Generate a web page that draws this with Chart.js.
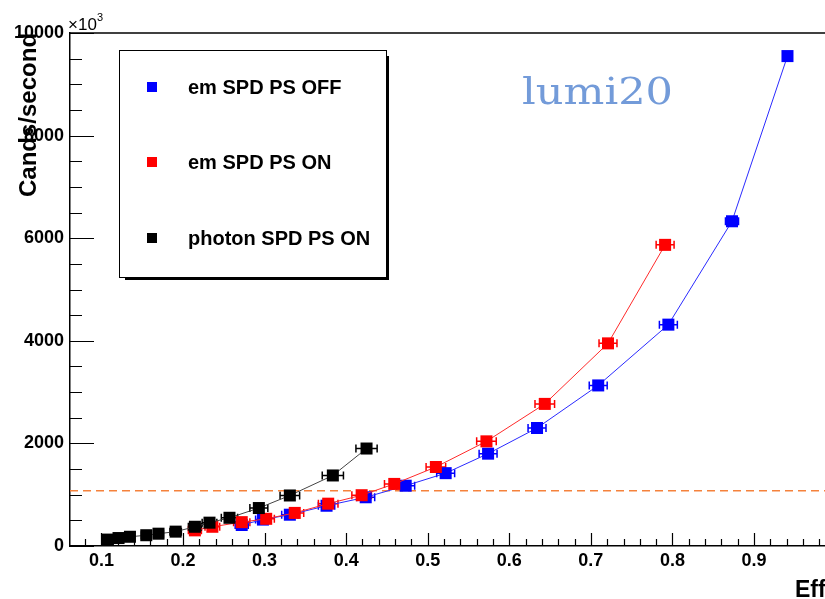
<!DOCTYPE html>
<html>
<head>
<meta charset="utf-8">
<script src="https://cdn.jsdelivr.net/npm/chart.js@4"></script>
<style>
    html, body { margin: 0; padding: 0; background: #fff; }
    #chart { display: block; }
</style>
</head>
<body>
<canvas id="chart" width="825" height="599"></canvas>
<script>
// Trigger rate vs efficiency, lumi20

const xMin = 0.0615;
const xMax = 0.987;
const yMin = 0;
const yMax = 10000;
const xTickLabels = [0.1, 0.2, 0.3, 0.4, 0.5, 0.6, 0.7, 0.8, 0.9];
const yTickLabels = [0, 2000, 4000, 6000, 8000, 10000];

const seriesNames = ['em SPD PS OFF', 'em SPD PS ON', 'photon SPD PS ON'];

const emOffEff = [0.272, 0.298, 0.331, 0.376, 0.424, 0.473, 0.522, 0.574, 0.634, 0.709, 0.795, 0.873, 0.941];
const emOffRate = [410, 515, 610, 785, 950, 1175, 1420, 1800, 2300, 3130, 4315, 6330, 9550];
const emOffErr = [0.008, 0.009, 0.01, 0.01, 0.011, 0.011, 0.011, 0.011, 0.011, 0.011, 0.011, 0.008, 0.004];

const emOnEff = [0.2146, 0.236, 0.272, 0.302, 0.337, 0.378, 0.419, 0.459, 0.51, 0.572, 0.6435, 0.721, 0.791];
const emOnRate = [305, 375, 465, 530, 645, 825, 990, 1210, 1540, 2040, 2770, 3950, 5870];
const emOnErr = [0.008, 0.009, 0.01, 0.01, 0.011, 0.012, 0.012, 0.012, 0.012, 0.012, 0.012, 0.011, 0.011];

const photonEff = [0.108, 0.121, 0.135, 0.155, 0.170, 0.191, 0.2146, 0.2325, 0.257, 0.293, 0.331, 0.3837, 0.425];
const photonRate = [125, 155, 180, 210, 240, 280, 375, 455, 550, 740, 985, 1375, 1900];
const photonErr = [0.005, 0.005, 0.005, 0.006, 0.006, 0.007, 0.008, 0.009, 0.01, 0.011, 0.012, 0.013, 0.013];

const refRate = 1075;

const FONT = "'Liberation Sans', Arial, sans-serif";

function toPoints(xs, ys) {
    return xs.map((x, i) => ({ x, y: ys[i] }));
}

function series(label, xs, ys, errs, color, lineColor, order) {
    return {
        label,
        data: toPoints(xs, ys),
        xerr: errs,
        errColor: color,
        showLine: true,
        borderColor: lineColor,
        borderWidth: 1,
        backgroundColor: color,
        pointStyle: 'rect',
        pointRadius: 8.5,
        pointBorderWidth: 0,
        pointBackgroundColor: color,
        order
    };
}

// ROOT-style frame: inward ticks, error bars, legend, texts
const rootFrame = {
    id: 'rootFrame',
    beforeDatasetsDraw(chart) {
        const { ctx, scales: { x, y } } = chart;
        chart.data.datasets.forEach(ds => {
            if (!ds.xerr) return;
            ctx.save();
            ctx.strokeStyle = ds.errColor;
            ctx.lineWidth = 1.5;
            ds.data.forEach((p, i) => {
                const e = ds.xerr[i];
                const x0 = x.getPixelForValue(p.x - e);
                const x1 = x.getPixelForValue(p.x + e);
                const py = y.getPixelForValue(p.y);
                ctx.beginPath();
                ctx.moveTo(x0, py); ctx.lineTo(x1, py);
                ctx.moveTo(x0, py - 4); ctx.lineTo(x0, py + 4);
                ctx.moveTo(x1, py - 4); ctx.lineTo(x1, py + 4);
                ctx.stroke();
            });
            ctx.restore();
        });
    },
    afterDraw(chart) {
        const { ctx, chartArea: a, scales: { x, y } } = chart;
        ctx.save();
        ctx.strokeStyle = '#000';
        ctx.lineWidth = 1.2;

        // x ticks every 0.02, major every 0.1
        ctx.beginPath();
        for (let k = Math.ceil(xMin / 0.02); k * 0.02 <= xMax; k++) {
            const px = Math.round(x.getPixelForValue(k * 0.02)) + 0.5;
            const len = k % 5 === 0 ? 13 : 7;
            ctx.moveTo(px, a.bottom); ctx.lineTo(px, a.bottom - len);
        }
        // y ticks every 500, major every 2000
        for (let v = yMin; v <= yMax; v += 500) {
            const py = Math.round(y.getPixelForValue(v)) + 0.5;
            const len = v % 2000 === 0 ? 24 : 12;
            ctx.moveTo(a.left, py); ctx.lineTo(a.left + len, py);
        }
        ctx.stroke();

        // top frame line
        ctx.lineWidth = 1.5;
        ctx.beginPath();
        ctx.moveTo(a.left, a.top); ctx.lineTo(a.right, a.top);
        ctx.stroke();

        // legend
        const lx = 119, ly = 50, lw = 267, lh = 227;
        ctx.fillStyle = '#fff';
        ctx.fillRect(lx, ly, lw, lh);
        ctx.lineWidth = 1;
        ctx.strokeRect(lx + 0.5, ly + 0.5, lw, lh);
        ctx.fillStyle = '#000';
        ctx.fillRect(lx + 6, ly + lh, lw - 3, 3);
        ctx.fillRect(lx + lw, ly + 6, 3, lh - 3);
        const rows = [87, 162, 238];
        ctx.font = 'bold 20px ' + FONT;
        ctx.textBaseline = 'middle';
        ctx.textAlign = 'left';
        chart.data.datasets.slice(0, 3).forEach((ds, i) => {
            ctx.fillStyle = ds.errColor;
            ctx.fillRect(147, rows[i] - 5, 10, 10);
            ctx.fillStyle = '#000';
            ctx.fillText(ds.label, 188, rows[i] + 1);
        });

        // exponent
        ctx.textBaseline = 'alphabetic';
        ctx.font = '17px ' + FONT;
        ctx.fillText('\u00d710', 68, 30);
        ctx.font = '11px ' + FONT;
        ctx.fillText('3', 97, 21);

        // axis titles
        ctx.font = 'bold 23px ' + FONT;
        ctx.fillText('Eff', 795, 597);
        ctx.save();
        ctx.translate(36, 197);
        ctx.rotate(-Math.PI / 2);
        ctx.font = 'bold 24px ' + FONT;
        ctx.fillText('Cands/second', 0, 0);
        ctx.restore();

        // lumi label
        ctx.save();
        ctx.font = "38px 'DejaVu Serif', serif";
        ctx.fillStyle = '#739bd9';
        const w = ctx.measureText('lumi20').width;
        ctx.translate(522, 104);
        ctx.scale(151 / w, 1);
        ctx.fillText('lumi20', 0, 0);
        ctx.restore();

        ctx.restore();
    }
};

Chart.defaults.font.family = FONT;

new Chart(document.getElementById('chart'), {
    type: 'scatter',
    data: {
        datasets: [
            series(seriesNames[0], emOffEff, emOffRate, emOffErr, '#0000ff', '#2a2aff', 3),
            series(seriesNames[1], emOnEff, emOnRate, emOnErr, '#ff0000', '#ff2a2a', 2),
            series(seriesNames[2], photonEff, photonRate, photonErr, '#000000', '#444444', 1),
            {
                label: 'reference',
                data: [{ x: xMin, y: refRate }, { x: xMax, y: refRate }],
                showLine: true,
                borderColor: '#f5823c',
                borderWidth: 1.5,
                borderDash: [8, 5],
                pointRadius: 0,
                order: 4
            }
        ]
    },
    options: {
        responsive: false,
        animation: false,
        devicePixelRatio: 1,
        layout: { autoPadding: false, padding: { top: 33, right: 0, left: 0, bottom: 0 } },
        plugins: {
            legend: { display: false },
            tooltip: { enabled: false }
        },
        scales: {
            x: {
                type: 'linear',
                min: xMin,
                max: xMax,
                afterBuildTicks: s => { s.ticks = xTickLabels.map(v => ({ value: v })); },
                afterFit: s => { s.height = 53; s.paddingLeft = 0; s.paddingRight = 0; },
                ticks: {
                    autoSkip: false,
                    maxRotation: 0,
                    padding: 4,
                    color: '#000',
                    font: { size: 18, weight: 'bold' },
                    callback: v => v.toFixed(1)
                },
                grid: { display: false, drawTicks: false },
                border: { color: '#000', width: 1.5 }
            },
            y: {
                min: yMin,
                max: yMax,
                afterBuildTicks: s => { s.ticks = yTickLabels.map(v => ({ value: v })); },
                afterFit: s => { s.width = 70; s.paddingTop = 0; s.paddingBottom = 0; },
                ticks: {
                    padding: 6,
                    color: '#000',
                    font: { size: 18, weight: 'bold' },
                    callback: v => String(v)
                },
                grid: { display: false, drawTicks: false },
                border: { color: '#000', width: 1.5 }
            }
        }
    },
    plugins: [rootFrame]
});
</script>
</body>
</html>
